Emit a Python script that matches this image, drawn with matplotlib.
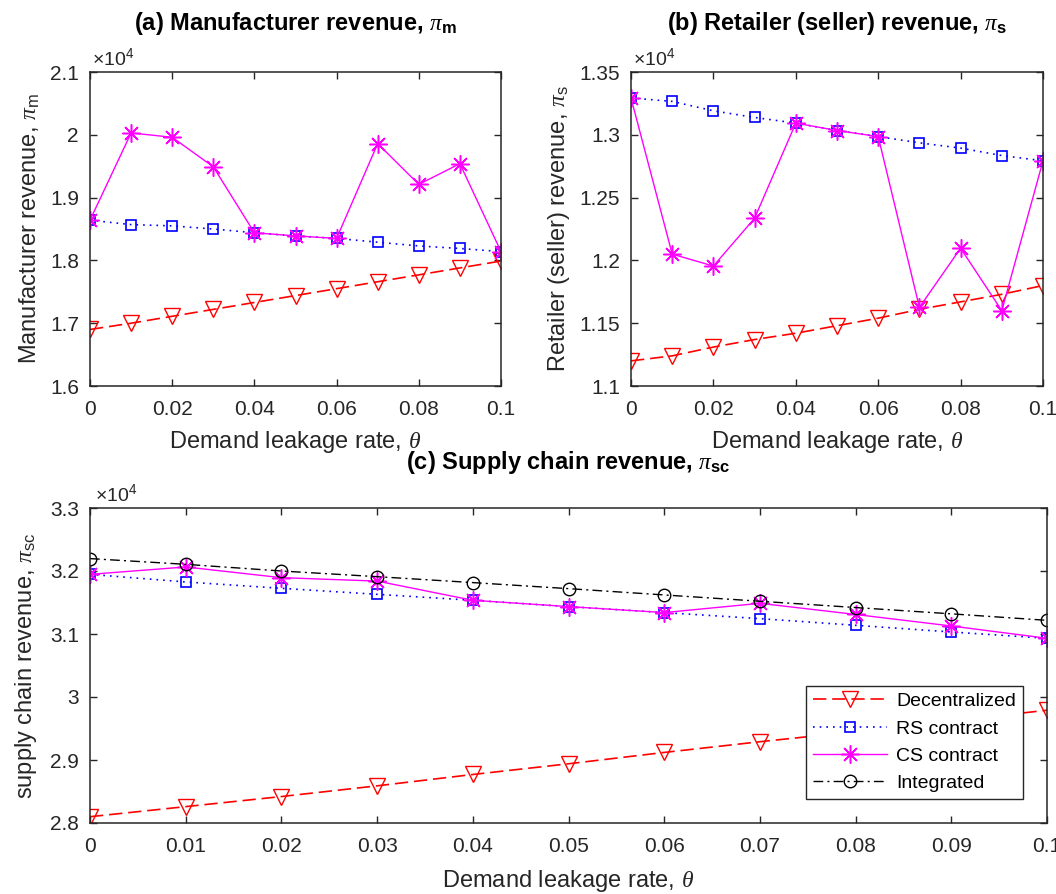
import matplotlib
matplotlib.use("Agg")
import matplotlib.pyplot as plt
from matplotlib.ticker import FuncFormatter

plt.rcParams['font.family'] = ['Liberation Sans', 'DejaVu Sans']
plt.rcParams['mathtext.fontset'] = 'custom'
plt.rcParams['mathtext.rm'] = 'Liberation Sans'
plt.rcParams['mathtext.it'] = 'Liberation Serif:italic'
plt.rcParams['mathtext.bf'] = 'Liberation Sans:bold'

# leakage rate theta
theta = [0, 0.01, 0.02, 0.03, 0.04, 0.05, 0.06, 0.07, 0.08, 0.09, 0.1]

# all revenues in units of 10^4
dec_m = [1.690, 1.700, 1.711, 1.722, 1.733, 1.744, 1.755, 1.766, 1.777, 1.788, 1.799]
rs_m = [1.864, 1.857, 1.855, 1.850, 1.844, 1.839, 1.835, 1.829, 1.823, 1.819, 1.814]
cs_m = [1.864, 2.003, 1.996, 1.949, 1.844, 1.839, 1.835, 1.986, 1.921, 1.954, 1.814]

dec_s = [1.120, 1.124, 1.131, 1.137, 1.142, 1.148, 1.154, 1.161, 1.167, 1.173, 1.180]
rs_s = [1.3293, 1.3266, 1.3191, 1.3138, 1.3093, 1.3034, 1.2986, 1.2936, 1.2894, 1.2835, 1.2793]
cs_s = [1.3293, 1.2050, 1.1955, 1.2336, 1.3093, 1.3034, 1.2986, 1.1626, 1.2097, 1.1600, 1.2793]

dec_sc = [2.810, 2.826, 2.842, 2.859, 2.877, 2.894, 2.912, 2.929, 2.945, 2.962, 2.979]
rs_sc = [3.1947, 3.1826, 3.1725, 3.1630, 3.1535, 3.1435, 3.1340, 3.1244, 3.1138, 3.1032, 3.0932]
cs_sc = [3.1947, 3.2064, 3.1894, 3.1840, 3.1535, 3.1435, 3.1340, 3.1487, 3.1310, 3.1127, 3.0932]
int_sc = [3.2197, 3.2106, 3.2000, 3.1910, 3.1816, 3.1720, 3.1620, 3.1520, 3.1420, 3.1320, 3.1217]

labels = ['Decentralized', 'RS contract', 'CS contract', 'Integrated']

dark = '#262626'
star = (8, 2, 0)
TICK = 15
LAB = 17
TIT = 17


def style_axes(ax, xticks, yticks, ylim):
    ax.set_xlim(0, 0.1)
    ax.set_ylim(ylim)
    ax.set_xticks(xticks)
    ax.set_yticks(yticks)
    ax.xaxis.set_major_formatter(FuncFormatter(lambda v, p: '%g' % round(v, 4)))
    ax.yaxis.set_major_formatter(FuncFormatter(lambda v, p: '%g' % round(v, 4)))
    ax.tick_params(direction='in', length=5, width=1, top=True, right=True,
                   labelsize=TICK, colors=dark, pad=8)
    ax.tick_params(axis='x', pad=10)
    for sp in ax.spines.values():
        sp.set_color(dark)
        sp.set_linewidth(1.1)
    ax.text(0.005, 1.008, r'$\times\mathdefault{10^{4}}$', transform=ax.transAxes,
            fontsize=14, color=dark, ha='left', va='bottom')


def draw(ax, dec, rs, cs):
    ax.plot(theta, dec, color='r', marker='v', markersize=11, markerfacecolor='none',
            linewidth=1.2, dashes=(8, 3.5), label=labels[0])
    ax.plot(theta, rs, color='b', marker='s', markersize=7, markerfacecolor='none',
            linewidth=1.2, dashes=(1, 3), markeredgewidth=1.2, label=labels[1])
    ax.plot(theta, cs, color='#FF00FF', marker=star, markersize=13,
            linewidth=1.0, markeredgewidth=1.1, label=labels[2])


fig = plt.figure(figsize=(10.56, 8.94), dpi=100)

ax1 = fig.add_axes([90 / 1056, 1 - 386 / 894, 411 / 1056, 314 / 894])
draw(ax1, dec_m, rs_m, cs_m)
style_axes(ax1, [0, 0.02, 0.04, 0.06, 0.08, 0.1], [1.6, 1.7, 1.8, 1.9, 2.0, 2.1], (1.6, 2.1))
ax1.set_title(r'(a) Manufacturer revenue, $\pi_{\mathbf{m}}$', fontsize=TIT,
              fontweight='bold', pad=30)
ax1.set_xlabel(r'Demand leakage rate, $\theta$', fontsize=LAB, color=dark, labelpad=7)
ax1.set_ylabel(r'Manufacturer revenue, $\pi_{\mathrm{m}}$', fontsize=LAB, color=dark, labelpad=6)

ax2 = fig.add_axes([631 / 1056, 1 - 386 / 894, 412 / 1056, 314 / 894])
draw(ax2, dec_s, rs_s, cs_s)
style_axes(ax2, [0, 0.02, 0.04, 0.06, 0.08, 0.1],
           [1.1, 1.15, 1.2, 1.25, 1.3, 1.35], (1.1, 1.35))
ax2.set_title(r'(b) Retailer (seller) revenue, $\pi_{\mathbf{s}}$', fontsize=TIT,
              fontweight='bold', pad=30)
ax2.set_xlabel(r'Demand leakage rate, $\theta$', fontsize=LAB, color=dark, labelpad=7)
ax2.set_ylabel(r'Retailer (seller) revenue, $\pi_{\mathrm{s}}$', fontsize=LAB, color=dark, labelpad=5)

ax3 = fig.add_axes([90 / 1056, 1 - 823 / 894, 957 / 1056, 315 / 894])
draw(ax3, dec_sc, rs_sc, cs_sc)
ax3.plot(theta, int_sc, color='k', marker='o', markersize=9, markerfacecolor='none',
         linewidth=1.0, dashes=(7, 3, 1.5, 3), label=labels[3])
style_axes(ax3, theta, [2.8, 2.9, 3.0, 3.1, 3.2, 3.3], (2.8, 3.3))
ax3.set_title(r'(c) Supply chain revenue, $\pi_{\mathbf{sc}}$', fontsize=TIT,
              fontweight='bold', pad=28)
ax3.set_xlabel(r'Demand leakage rate, $\theta$', fontsize=LAB, color=dark, labelpad=9)
ax3.set_ylabel(r'supply chain revenue, $\pi_{\mathrm{sc}}$', fontsize=LAB, color=dark, labelpad=8)
leg = ax3.legend(loc='lower right', bbox_to_anchor=(0.985, 0.045), fontsize=14,
                 handlelength=3.8, fancybox=False, framealpha=1, borderpad=0.35,
                 labelspacing=0.5, handletextpad=0.5)
leg.get_frame().set_edgecolor(dark)
leg.get_frame().set_linewidth(1.0)

fig.savefig('out.png', dpi=100)
